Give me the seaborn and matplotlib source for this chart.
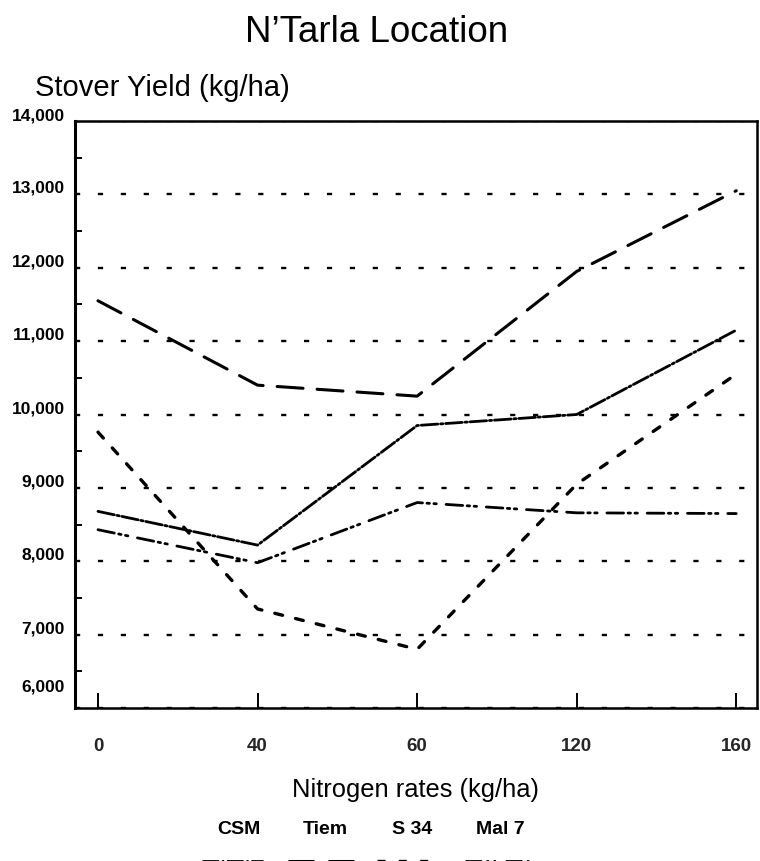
import numpy as np
import pandas as pd
import matplotlib
matplotlib.use("Agg")
import matplotlib.pyplot as plt
import matplotlib.transforms as mtransforms
from matplotlib.lines import Line2D
from matplotlib.ticker import MultipleLocator, FixedLocator
import seaborn as sns

# ---- data ----
rates = ["0", "40", "60", "120", "160"]
series_names = ["CSM", "Tiem", "S 34", "Mal 7"]
csm = [8680, 8220, 9850, 10000, 11150]
tiem = [11550, 10400, 10250, 11950, 13050]
s34 = [9760, 7350, 6800, 9050, 10550]
mal7 = [8430, 7980, 8800, 8660, 8650]
yticks = [6000, 7000, 8000, 9000, 10000, 11000, 12000, 13000, 14000]
ytick_labels = ["6,000", "7,000", "8,000", "9,000", "10,000", "11,000", "12,000", "13,000", "14,000"]

sns.set_theme(style="white")
plt.rcParams["font.family"] = ["Liberation Sans", "DejaVu Sans"]

pos = list(range(len(rates)))
df = pd.concat([
    pd.DataFrame({"pos": pos, "yield": vals, "variety": name})
    for name, vals in zip(series_names, [csm, tiem, s34, mal7])
], ignore_index=True)

W, H = 760, 862
fig = plt.figure(figsize=(W / 100, H / 100), dpi=100)
ax = fig.add_axes([75 / W, 1 - 709 / H, (757 - 75) / W, (709 - 122) / H])

styles = {
    "CSM": dict(lw=2.0, dashes=(6, 1.0, 0.8, 1.0)),
    "Tiem": dict(lw=2.2, dashes=(8.5, 4.6)),
    "S 34": dict(lw=2.4, dashes=(2.4, 4.0)),
    "Mal 7": dict(lw=2.0, dashes=(6, 1.6, 0.9, 1.6, 0.9, 3.5)),
}

for name in series_names:
    sub = df[df["variety"] == name]
    sns.lineplot(data=sub, x="pos", y="yield", ax=ax, color="black",
                 lw=styles[name]["lw"], dashes=False, sort=False,
                 estimator=None, legend=False)
    ln = ax.lines[-1]
    ln.set_dashes(styles[name]["dashes"])
    ln.set_dash_capstyle("round")

ax.set_xlim(-0.144, 4.13)
ax.set_ylim(6000, 14000)

# grid
ax.yaxis.set_major_locator(FixedLocator(yticks))
ax.yaxis.set_minor_locator(MultipleLocator(500))
ax.yaxis.grid(True, which="major", color="black", lw=1.7,
              linestyle=(0, (2.2, 7.5)))
ax.set_axisbelow(True)

# spines
for s in ax.spines.values():
    s.set_visible(True)
    s.set_color("black")
    s.set_linewidth(1.8)
ax.spines["left"].set_linewidth(2.2)

# y ticks
ax.tick_params(axis="y", which="major", direction="in", length=7, width=1.4,
               labelleft=False, color="black")
ax.tick_params(axis="y", which="minor", direction="in", length=5, width=1.4,
               color="black", left=True)
offsets = {6000: 22, 14000: 6}
for v, lab in zip(yticks, ytick_labels):
    dy = offsets.get(v, 7)
    tr = ax.get_yaxis_transform() + mtransforms.ScaledTranslation(
        -10 / 100, dy / 100, fig.dpi_scale_trans)
    ax.text(0, v, lab, transform=tr, ha="right", va="center",
            fontsize=12.5, fontweight="bold", color="black")

# x ticks
ax.set_xticks(pos)
ax.set_xticklabels(rates, fontsize=13.5, fontweight="bold")
ax.tick_params(axis="x", which="major", direction="in", length=11, width=1.4,
               pad=21, color="black", bottom=True)
ax.set_xlabel("")
ax.set_ylabel("")

# texts
fig.text(377 / W, 1 - 32 / H, "N\u2019Tarla Location", ha="center", va="center",
         fontsize=26.5, color="black")
fig.text(35 / W, 1 - 88 / H, "Stover Yield (kg/ha)", ha="left", va="center",
         fontsize=21, color="black")
fig.text(416 / W, 1 - 790 / H, "Nitrogen rates (kg/ha)", ha="center", va="center",
         fontsize=18.4, color="black")

# legend (keys cut off at bottom edge as in original)
leg_x = {"CSM": 239, "Tiem": 325, "S 34": 412, "Mal 7": 500}
leg_seg = {"CSM": (202, 263), "Tiem": (288, 360), "S 34": (377, 440), "Mal 7": (465, 530)}
for name in series_names:
    fig.text(leg_x[name] / W, 1 - 830 / H, name, ha="center", va="center",
             fontsize=14, fontweight="bold", color="black")
    x0, x1 = leg_seg[name]
    key = Line2D([x0 / W, x1 / W], [-0.3 / H, -0.3 / H], transform=fig.transFigure,
                 color="black", lw=styles[name]["lw"])
    key.set_dashes(styles[name]["dashes"])
    fig.add_artist(key)

fig.savefig("out.png", dpi=100, facecolor="white")
